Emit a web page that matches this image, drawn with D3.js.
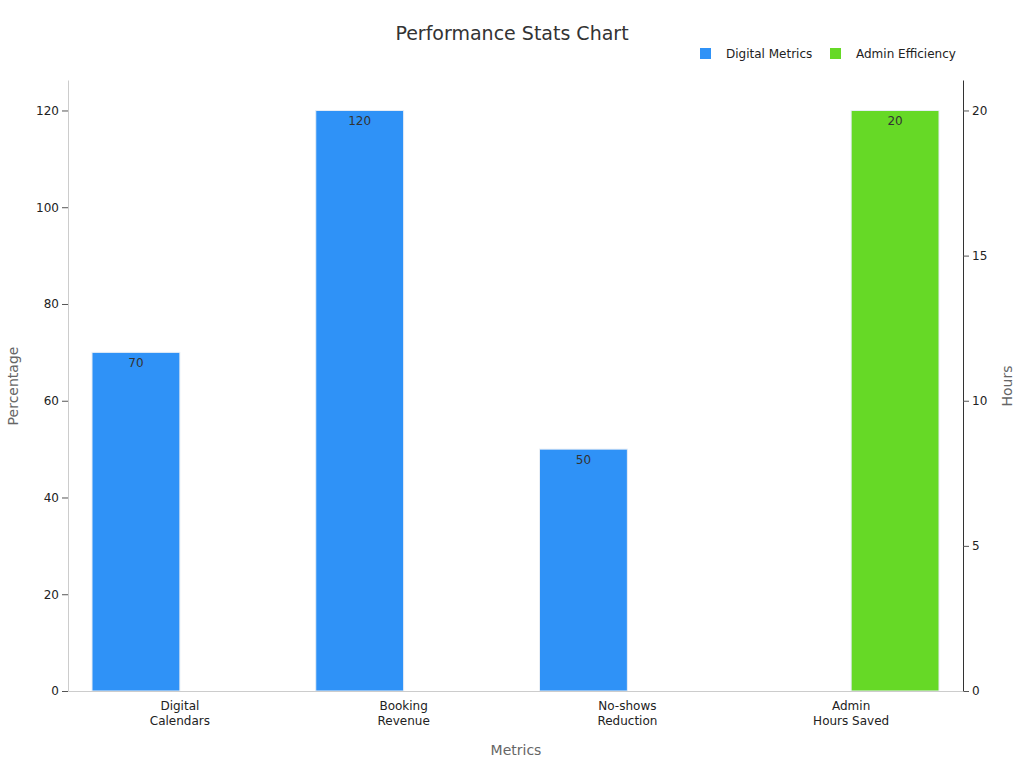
<!DOCTYPE html>
<html>
<head>
<meta charset="utf-8">
<script src="https://cdn.jsdelivr.net/npm/d3@7"></script>
<style>
body { margin: 0; background: #fff; font-family: "DejaVu Sans", sans-serif; }
</style>
</head>
<body>
<div id="chart"></div>
<script>
var categories = ['Digital\nCalendars', 'Booking\nRevenue', 'No-shows\nReduction', 'Admin\nHours Saved'];
var series = ['Digital Metrics', 'Admin Efficiency'];
var digitalValues = [70, 120, 50, null];
var adminValues = [null, null, null, 20];
var colors = ['#2f92f7', '#66d926'];
var leftTicks = [0, 20, 40, 60, 80, 100, 120];
var rightTicks = [0, 5, 10, 15, 20];

var margins = {top: 80, right: 61, bottom: 77, left: 68};
var width = 1024 - margins.left - margins.right;
var height = 768 - margins.top - margins.bottom;

var svg = d3.select('#chart').append('svg')
	.attr('width', 1024).attr('height', 768);
var g = svg.append('g').attr('transform', 'translate(' + margins.left + ',' + margins.top + ')');

var x0 = d3.scaleBand().domain(categories).range([0, width]);
var x1 = d3.scaleBand().domain(series).range([24, x0.bandwidth() - 24]);
var yL = d3.scaleLinear().domain([0, 126.3]).range([height, 0]);
var yR = d3.scaleLinear().domain([0, 21.05]).range([height, 0]);

var rows = [];
categories.forEach(function(c, i) {
	if (digitalValues[i] != null) rows.push({cat: c, s: 0, v: digitalValues[i], y: yL});
	if (adminValues[i] != null) rows.push({cat: c, s: 1, v: adminValues[i], y: yR});
});

g.selectAll('rect.bar').data(rows).enter().append('rect')
	.attr('x', function(d) { return x0(d.cat) + x1(series[d.s]); })
	.attr('width', x1.bandwidth())
	.attr('y', function(d) { return d.y(d.v); })
	.attr('height', function(d) { return height - d.y(d.v); })
	.style('fill', function(d) { return colors[d.s]; })
	.style('stroke', '#e8eef5').style('stroke-width', 1);

g.selectAll('text.val').data(rows).enter().append('text')
	.attr('x', function(d) { return x0(d.cat) + x1(series[d.s]) + x1.bandwidth() / 2; })
	.attr('y', function(d) { return d.y(d.v) + 15; })
	.attr('text-anchor', 'middle').style('font-size', '12px').style('fill', '#333')
	.text(function(d) { return d.v; });

function styleAxis(sel) {
	sel.selectAll('path').style('stroke', '#ccc');
	sel.selectAll('line').style('stroke', '#555');
	sel.selectAll('text').style('font-size', '12px').style('fill', '#222').style('font-family', '"DejaVu Sans", sans-serif');
}

var la = g.append('g').call(d3.axisLeft(yL).tickValues(leftTicks).tickSizeOuter(0));
styleAxis(la);
var ra = g.append('g').attr('transform', 'translate(' + width + ',0)')
	.call(d3.axisRight(yR).tickValues(rightTicks).tickSizeOuter(0));
styleAxis(ra);
ra.select('path').style('stroke', '#333');

var ba = g.append('g').attr('transform', 'translate(0,' + height + ')')
	.call(d3.axisBottom(x0).tickSize(0).tickPadding(10));
styleAxis(ba);
ba.selectAll('text').each(function(d) {
	var t = d3.select(this), parts = d.split('\n');
	t.text(null);
	parts.forEach(function(p, i) {
		t.append('tspan').attr('x', 0).attr('dy', i === 0 ? '0.71em' : '1.3em').text(p);
	});
});

svg.append('text').attr('x', 512).attr('y', 40).attr('text-anchor', 'middle')
	.style('font-size', '19px').style('fill', '#333').text('Performance Stats Chart');
svg.append('text').attr('x', 516).attr('y', 755).attr('text-anchor', 'middle')
	.style('font-size', '14px').style('fill', '#666').text('Metrics');
svg.append('text').attr('transform', 'translate(18,386) rotate(-90)').attr('text-anchor', 'middle')
	.style('font-size', '14px').style('fill', '#666').text('Percentage');
svg.append('text').attr('transform', 'translate(1012,386) rotate(-90)').attr('text-anchor', 'middle')
	.style('font-size', '14px').style('fill', '#666').text('Hours');

var legX = [700, 830];
var leg = svg.selectAll('g.leg').data(series).enter().append('g')
	.attr('transform', function(d, i) { return 'translate(' + legX[i] + ',48)'; });
leg.append('rect').attr('width', 11).attr('height', 11).style('fill', function(d, i) { return colors[i]; });
leg.append('text').attr('x', 26).attr('y', 10).style('font-size', '12px').style('fill', '#222').text(function(d) { return d; });
</script>
</body>
</html>
